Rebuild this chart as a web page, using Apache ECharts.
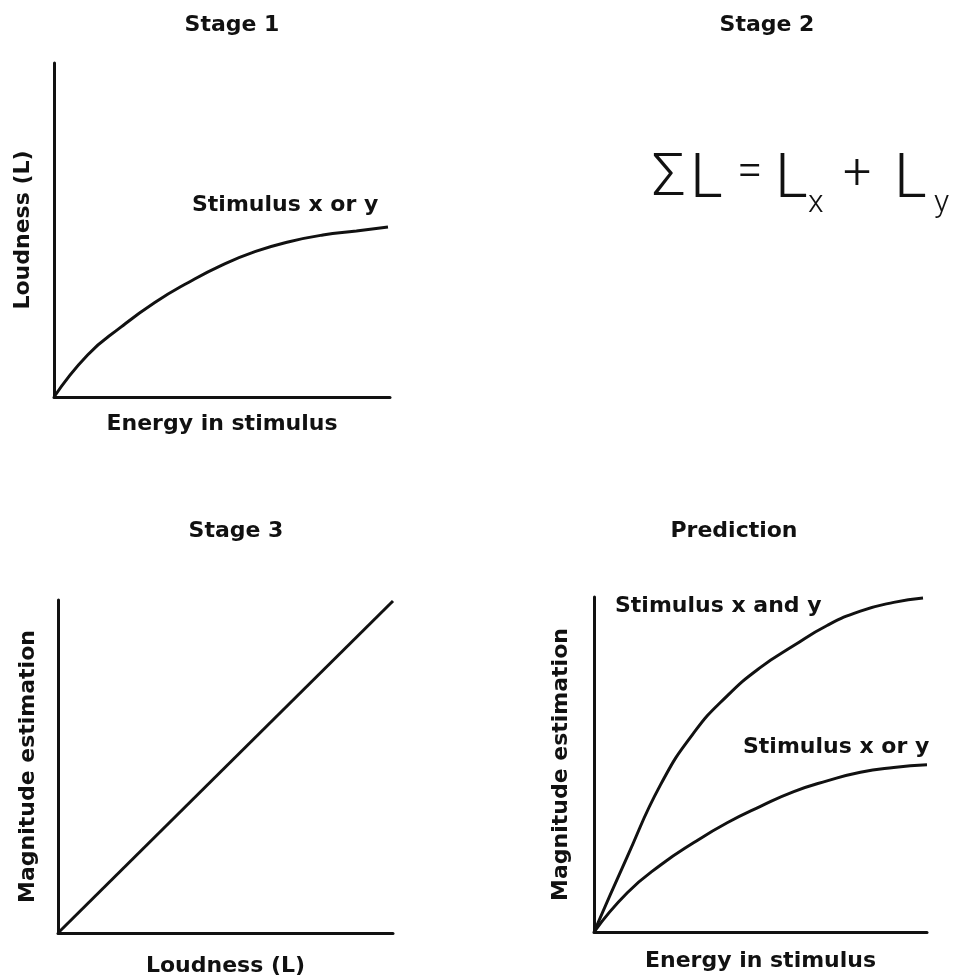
<!DOCTYPE html>
<html>
<head>
<meta charset="utf-8">
<script src="https://cdn.jsdelivr.net/npm/echarts@6/dist/echarts.min.js"></script>
<style>
html,body{margin:0;padding:0;background:#fff;}
#c{width:953px;height:979px;}
</style>
</head>
<body>
<div id="c"></div>
<script>
// Stage 1: loudness vs energy (stimulus x or y)
const stage1Energy   = [0, 10, 20, 30, 40, 50, 60, 70, 80, 90, 99.4];
const stage1Loudness = [0, 12.6, 21.0, 28.3, 34.3, 39.5, 43.6, 46.5, 48.5, 49.7, 50.9];
// Stage 3: magnitude estimation vs loudness (linear)
const stage3Loudness  = [0, 100];
const stage3Magnitude = [0, 99.7];
// Prediction: stimulus x and y
const predBothEnergy    = [0, 10, 20, 30, 40, 50, 60, 70, 80, 90, 98.8];
const predBothMagnitude = [0, 22.5, 44.0, 59.5, 70.5, 79.0, 85.5, 91.5, 95.8, 98.4, 99.7];
// Prediction: stimulus x or y
const predOneEnergy    = [0, 10, 20, 30, 40, 50, 60, 70, 80, 90, 100];
const predOneMagnitude = [0, 11.7, 20.0, 26.7, 32.6, 37.5, 41.9, 45.1, 47.7, 49.1, 49.9];

const panelTitles = ['Stage 1', 'Stage 2', 'Stage 3', 'Prediction'];
const xNames = ['Energy in stimulus', 'Loudness (L)', 'Energy in stimulus'];
const yNames = ['Loudness (L)', 'Magnitude estimation', 'Magnitude estimation'];
const curveLabels = ['Stimulus x or y', 'Stimulus x and y', 'Stimulus x or y'];

const FONT = '"DejaVu Sans", sans-serif';
const lblStyle = {fontFamily: FONT, fontWeight: 'bold', fontSize: 22, color: '#111'};
const pairs = (xs, ys) => xs.map((x, i) => [x, ys[i]]);

const grids = [
  {left: 54, top: 63, width: 336, height: 334},
  {left: 58, top: 600, width: 335, height: 333},
  {left: 594, top: 597, width: 333, height: 335}
];
const yGaps = [20, 19, 22];
const xGaps = [16, 22, 18];

const axisCommon = {
  type: 'value', min: 0, max: 100,
  axisLine: {show: true, lineStyle: {color: '#111', width: 3}},
  axisTick: {show: false}, axisLabel: {show: false}, splitLine: {show: false},
  nameLocation: 'middle', nameTextStyle: lblStyle
};

const xAxis = grids.map((g, i) => Object.assign({}, axisCommon, {gridIndex: i, name: xNames[i], nameGap: xGaps[i]}));
const yAxis = grids.map((g, i) => Object.assign({}, axisCommon, {gridIndex: i, name: yNames[i], nameGap: yGaps[i]}));

const lineStyle = {color: '#111', width: 3};
const mk = (xi, data) => ({
  type: 'line', xAxisIndex: xi, yAxisIndex: xi, data: data, smooth: 0.5,
  showSymbol: false, symbol: 'none', lineStyle: lineStyle, animation: false
});

const series = [
  mk(0, pairs(stage1Energy, stage1Loudness)),
  mk(1, pairs(stage3Loudness, stage3Magnitude)),
  mk(2, pairs(predBothEnergy, predBothMagnitude)),
  mk(2, pairs(predOneEnergy, predOneMagnitude))
];

const titleStyle = {fontFamily: FONT, fontWeight: 'bold', fontSize: 22, color: '#111'};
const titlePos = [[227, 9], [762, 9], [231, 515], [729, 515]];
const title = panelTitles.map((t, i) => ({
  text: t, left: titlePos[i][0], top: titlePos[i][1], textAlign: 'center', textStyle: titleStyle
}));

const labelPos = [[192, 207], [615, 608], [743, 749]];
const graphic = curveLabels.map((t, i) => ({
  type: 'text', left: labelPos[i][0], top: labelPos[i][1] - 13,
  style: {text: t, font: 'bold 22px ' + FONT, fill: '#111'}
}));

// Stage 2 formula: ΣL = Lx + Ly
const formulaParts = [
  {t: '\u03A3', x: 652, y: 150, s: 60},
  {t: 'L', x: 690, y: 150, s: 62},
  {t: '=', x: 737, y: 150, s: 46},
  {t: 'L', x: 775, y: 150, s: 62},
  {t: 'x', x: 808, y: 188, s: 32},
  {t: '+', x: 843, y: 150, s: 50},
  {t: 'L', x: 894, y: 150, s: 62},
  {t: 'y', x: 934, y: 188, s: 32}
];
formulaParts.forEach(p => graphic.push({
  type: 'text', x: p.x, y: p.y,
  style: {text: p.t, font: '300 ' + p.s + 'px Roboto, "DejaVu Sans", sans-serif', fill: '#111', textVerticalAlign: 'top'}
}));

const chart = echarts.init(document.getElementById('c'), null, {renderer: 'canvas'});
chart.setOption({
  backgroundColor: '#fff',
  animation: false,
  title: title,
  grid: grids,
  xAxis: xAxis,
  yAxis: yAxis,
  series: series,
  graphic: graphic
});
</script>
</body>
</html>
